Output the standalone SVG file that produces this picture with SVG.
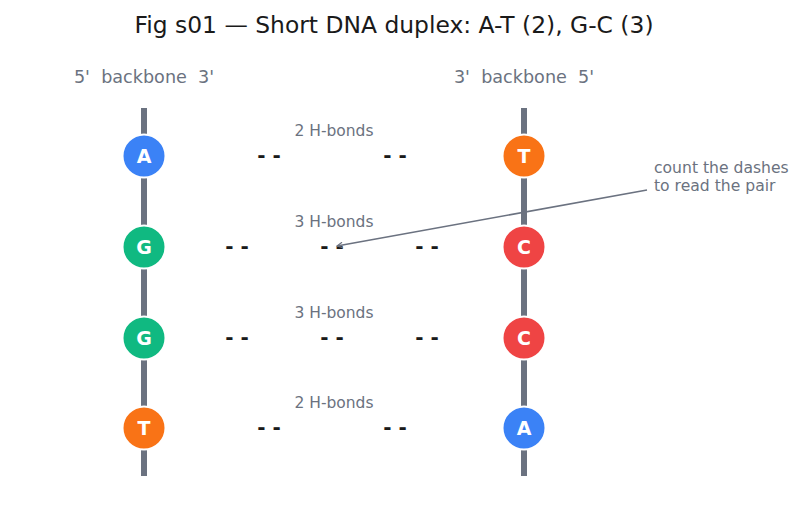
<svg xmlns="http://www.w3.org/2000/svg" width="802" height="510" viewBox="0 0 802 510">
  <style>
    text { font-family: "DejaVu Sans", "Liberation Sans", sans-serif; }
    .title { font-size: 23.4px; fill: #1a1a1a; text-anchor: middle; }
    .strand-label { font-size: 17.6px; fill: #6b7280; text-anchor: middle; white-space: pre; }
    .bond-label { font-size: 15.5px; fill: #6b7280; text-anchor: middle; }
    .dash { font-size: 20px; font-weight: bold; fill: #1a1a1a; text-anchor: middle; white-space: pre; }
    .backbone { stroke: #6b7280; stroke-width: 6; }
    .base circle { stroke: #ffffff; stroke-width: 2; }
    .base text { font-size: 19px; font-weight: bold; fill: #ffffff; text-anchor: middle; }
    .note { font-size: 15.6px; fill: #6b7280; }
    .leader { stroke: #6b7280; stroke-width: 1.6; fill: none; }
  </style>
  <defs>
    <marker id="arrow" viewBox="0 0 10 10" refX="9" refY="5" markerWidth="7" markerHeight="7" orient="auto-start-reverse" markerUnits="userSpaceOnUse">
      <path d="M1,1 L9,5 L1,9" fill="none" stroke="#6b7280" stroke-width="1.6"/>
    </marker>
  </defs>
  <rect width="802" height="510" fill="#ffffff"/>

  <text class="title" x="394" y="33">Fig s01 — Short DNA duplex: A-T (2), G-C (3)</text>

  <text class="strand-label" x="144" y="83">5'  backbone  3'</text>
  <text class="strand-label" x="524" y="83">3'  backbone  5'</text>

  <!-- sugar-phosphate backbones -->
  <g id="backbones">
    <line class="backbone" x1="144" y1="108" x2="144" y2="476"/>
    <line class="backbone" x1="524" y1="108" x2="524" y2="476"/>
  </g>

  <!-- hydrogen bonds between the strands -->
  <g id="connectors">
    <text class="bond-label" x="334" y="136">2 H-bonds</text>
    <text class="dash" x="269" y="162">- -</text>
    <text class="dash" x="395" y="162">- -</text>

    <text class="bond-label" x="334" y="227">3 H-bonds</text>
    <text class="dash" x="237" y="253">- -</text>
    <text class="dash" x="332" y="253">- -</text>
    <text class="dash" x="427" y="253">- -</text>

    <text class="bond-label" x="334" y="318">3 H-bonds</text>
    <text class="dash" x="237" y="344">- -</text>
    <text class="dash" x="332" y="344">- -</text>
    <text class="dash" x="427" y="344">- -</text>

    <text class="bond-label" x="334" y="408">2 H-bonds</text>
    <text class="dash" x="269" y="434">- -</text>
    <text class="dash" x="395" y="434">- -</text>

    <line class="leader" x1="647" y1="190" x2="337" y2="246" marker-end="url(#arrow)"/>
  </g>

  <!-- left strand bases -->
  <g id="base-L1" class="base"><circle cx="144" cy="156" r="21.5" fill="#3b82f6"/><text x="144" y="163">A</text></g>
  <g id="base-L2" class="base"><circle cx="144" cy="247" r="21.5" fill="#10b981"/><text x="144" y="254">G</text></g>
  <g id="base-L3" class="base"><circle cx="144" cy="338" r="21.5" fill="#10b981"/><text x="144" y="345">G</text></g>
  <g id="base-L4" class="base"><circle cx="144" cy="428" r="21.5" fill="#f97316"/><text x="144" y="435">T</text></g>

  <!-- right strand bases -->
  <g id="base-R1" class="base"><circle cx="524" cy="156" r="21.5" fill="#f97316"/><text x="524" y="163">T</text></g>
  <g id="base-R2" class="base"><circle cx="524" cy="247" r="21.5" fill="#ef4444"/><text x="524" y="254">C</text></g>
  <g id="base-R3" class="base"><circle cx="524" cy="338" r="21.5" fill="#ef4444"/><text x="524" y="345">C</text></g>
  <g id="base-R4" class="base"><circle cx="524" cy="428" r="21.5" fill="#3b82f6"/><text x="524" y="435">A</text></g>

  <g id="note">
    <text class="note" x="654" y="173">count the dashes</text>
    <text class="note" x="654" y="191">to read the pair</text>
  </g>
</svg>
